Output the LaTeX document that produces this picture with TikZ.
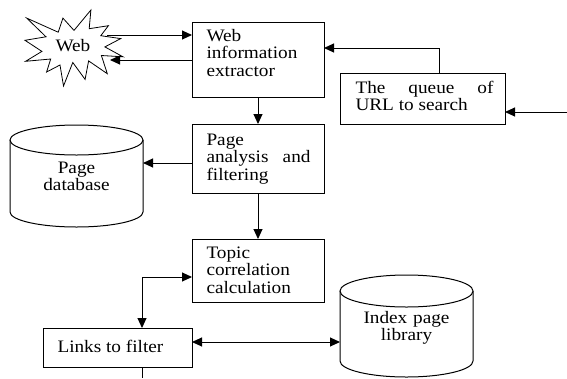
\documentclass[tikz,border=0pt]{standalone}
\usepackage{fontspec}
\setmainfont{Liberation Serif}[FakeStretch=1.1]
\usetikzlibrary{arrows.meta}
\begin{document}
\begin{tikzpicture}[x=1pt,y=-1pt,
  line width=1pt,
  box/.style={draw, line width=1pt, inner sep=0pt, outer sep=0pt, anchor=north west},
  ghost/.style={inner sep=0pt, outer sep=0pt},
  txt/.style={inner sep=0pt, anchor=base west, font=\fontsize{17.5}{17.5}\selectfont, align=justify},
  ctxt/.style={inner sep=0pt, anchor=base, font=\fontsize{17.5}{17}\selectfont, align=center},
  arr/.style={line width=1pt, -{Triangle[length=10pt,width=9pt]}},
  darr/.style={line width=1pt, {Triangle[length=10pt,width=9pt]}-{Triangle[length=10pt,width=9pt]}},
  can/.style={draw, line width=1pt, fill=white}
]
\useasboundingbox (0,0) rectangle (567,378);

% star (Web)
\draw[line width=0.8pt, fill=white] (74.0,30.4) -- (90.9,10) -- (89.2,28.7) -- (108.4,25.7) -- (100.8,35.7)
  -- (120.7,38.6) -- (104.9,46.9) -- (123,56.8) -- (101.4,55.5) -- (107.3,73.7) -- (88.6,60.9)
  -- (85.1,79.4) -- (72.8,62.5) -- (63.5,86) -- (60.0,65.0) -- (46.6,72.0) -- (50.7,59.0)
  -- (25.6,61.3) -- (41.9,51.4) -- (25,40.3) -- (46.0,36.8) -- (26.7,18.1) -- (58.2,32.2)
  -- (62.9,18.1) -- cycle;
\node[txt] (web) at (55,51) {Web};

% boxes
\node[box, minimum width=132pt, minimum height=75pt] (ext) at (192,22) {};
\node[box, minimum width=165pt, minimum height=51pt] (queue) at (340,73) {};
\node[box, minimum width=132pt, minimum height=69pt] (ana) at (192,124) {};
\node[box, minimum width=132pt, minimum height=63pt] (topic) at (192,239) {};
\node[box, minimum width=149pt, minimum height=39pt] (links) at (43,328) {};

% box texts
\node[txt, text width=104pt] (extT) at (206,41) {Web\\information\\extractor};
\node[txt, text width=104pt] (anaT) at (206,145) {Page\\analysis\hfill and\\filtering};
\node[txt, text width=138pt] (queueT) at (355,93) {The\hfill queue\hfill of\\URL to search};
\node[txt, text width=104pt] (topicT) at (206,258) {Topic\\correlation\\calculation};
\node[txt, text width=130pt] (linksT) at (57,352) {Links to filter};

% page database cylinder
\node[ghost, minimum width=133pt, minimum height=102pt] (db) at (76.5,176) {};
\draw[can] (10,140) -- (10,212) arc[start angle=180, end angle=0, x radius=66.5, y radius=15] -- (143,140);
\draw[can] (76.5,140) ellipse[x radius=66.5, y radius=15];
\node[ctxt, text width=120pt] (dbT) at (76.5,173) {Page\\database};

% index page library cylinder
\node[ghost, minimum width=133pt, minimum height=102pt] (idx) at (406.5,326) {};
\draw[can] (340,291) -- (340,361) arc[start angle=180, end angle=0, x radius=66.5, y radius=16] -- (473,291);
\draw[can] (406.5,291) ellipse[x radius=66.5, y radius=16];
\node[ctxt, text width=120pt] (idxT) at (406.5,323) {Index page\\library};

% connectors
\coordinate (wA) at (107,35);
\coordinate (wB) at (110,60);
\draw[arr] (wA) -- (wA -| ext.west);
\draw[arr] (ext.west |- wB) -- (wB);

\coordinate (qa) at (439,48);
\draw[arr] (qa |- queue.north) -- (qa) -- (qa -| ext.east);

\coordinate (rin) at (567,112);
\draw[arr] (rin) -- (rin -| queue.east);

\draw[arr] (ext.south) -- (ana.north);

\coordinate (dbA) at (0,163);
\draw[arr] (ana.west |- dbA) -- (db.east |- dbA);

\draw[arr] (ana.south) -- (topic.north);

\coordinate (tl) at (142,277);
\draw[darr] (topic.west |- tl) -- (tl) -- (tl |- links.north);

\coordinate (li) at (0,342);
\draw[darr] (links.east |- li) -- (idx.west |- li);

\coordinate (ld) at (142,378);
\draw (ld |- links.south) -- (ld);
\end{tikzpicture}
\end{document}
